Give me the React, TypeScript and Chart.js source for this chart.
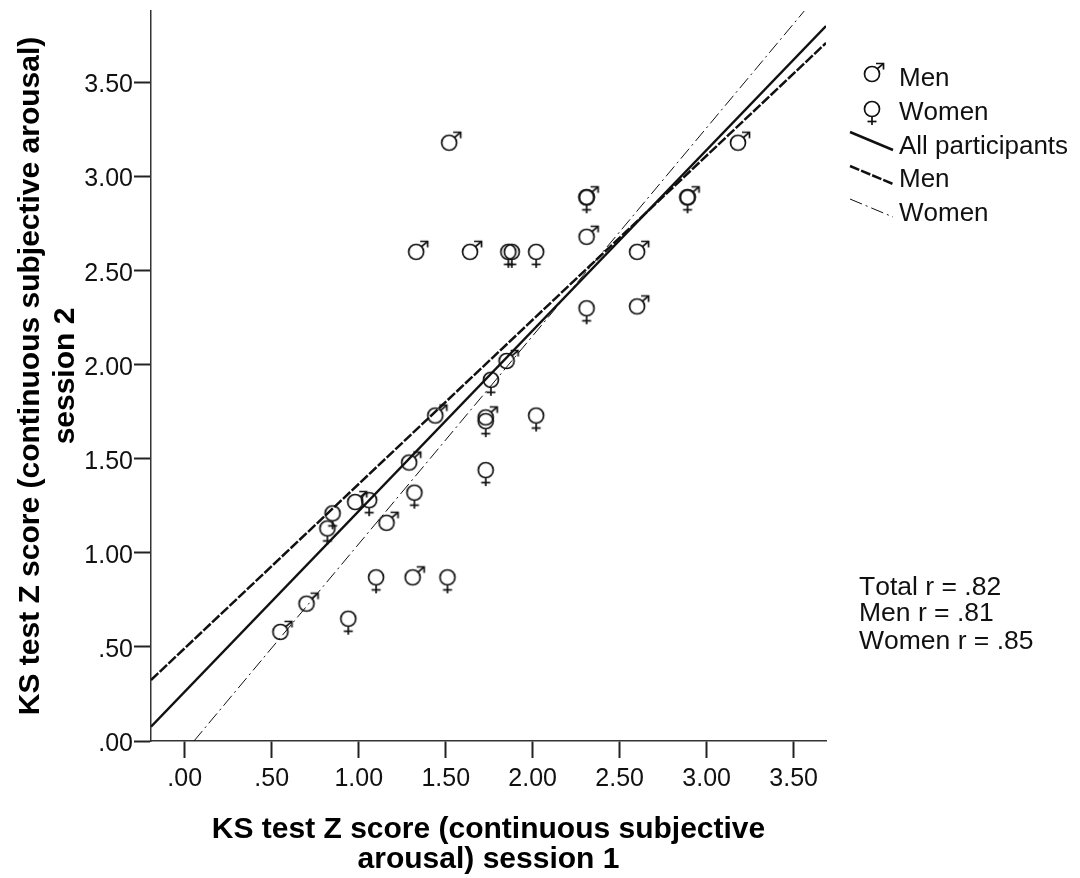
import React, { useEffect, useRef } from "react";
import { Chart, registerables } from "chart.js";

Chart.register(...registerables);

const FONT = '"Liberation Sans", Arial, sans-serif';
const INK = "#111111";

const xTitle = ["KS test Z score (continuous subjective", "arousal) session 1"];
const yTitle = ["KS test Z score (continuous subjective arousal)", "session 2"];
const tickValues = [0, 0.5, 1, 1.5, 2, 2.5, 3, 3.5];
const tickLabels = [".00", ".50", "1.00", "1.50", "2.00", "2.50", "3.00", "3.50"];
const legendLabels = ["Men", "Women", "All participants", "Men", "Women"];
const statLabels = ["Total r = .82", "Men r = .81", "Women r = .85"];

const menX = [1.52, 1.33, 1.64, 2.31, 2.31, 2.89, 3.18, 2.6, 2.6, 1.85, 1.44, 1.73, 1.29, 0.98, 1.16, 1.31, 0.7, 0.55];
const menY = [3.18, 2.6, 2.6, 2.89, 2.68, 2.89, 3.18, 2.6, 2.31, 2.02, 1.73, 1.72, 1.48, 1.27, 1.16, 0.87, 0.73, 0.58];
const womenX = [2.31, 2.89, 1.88, 1.86, 2.02, 2.31, 1.76, 1.73, 2.02, 1.73, 1.32, 1.06, 0.85, 0.82, 1.1, 1.51, 0.94];
const womenY = [2.89, 2.89, 2.6, 2.6, 2.6, 2.3, 1.92, 1.7, 1.73, 1.44, 1.32, 1.28, 1.21, 1.13, 0.87, 0.87, 0.65];

const lineAllX = [-0.194, 3.686];
const lineAllY = [0.076, 3.8];
const lineMenX = [-0.194, 3.686];
const lineMenY = [0.324, 3.71];
const lineWomenX = [0.053, 3.57];
const lineWomenY = [0, 3.89];

const pairs = (xs: number[], ys: number[]) => xs.map((x, i) => ({ x, y: ys[i] }));

function symbolCanvas(draw: (c: CanvasRenderingContext2D) => void) {
  const cv = document.createElement("canvas");
  cv.width = 44;
  cv.height = 44;
  const c = cv.getContext("2d")!;
  c.translate(22, 22);
  c.strokeStyle = INK;
  c.lineWidth = 1.7;
  draw(c);
  return cv;
}

function seg(c: CanvasRenderingContext2D, pts: number[][]) {
  c.beginPath();
  pts.forEach((p, i) => (i ? c.lineTo(p[0], p[1]) : c.moveTo(p[0], p[1])));
  c.stroke();
}

function makeSymbols() {
  const male = symbolCanvas((c) => {
    c.beginPath();
    c.arc(0, 0, 7.5, 0, Math.PI * 2);
    c.stroke();
    seg(c, [[5.2, -5.2], [11.5, -10.5]]);
    seg(c, [[4, -10.5], [11.5, -10.5], [11.5, -4.5]]);
  });
  const female = symbolCanvas((c) => {
    c.beginPath();
    c.arc(0, 0, 7.5, 0, Math.PI * 2);
    c.stroke();
    seg(c, [[0, 7.5], [0, 16]]);
    seg(c, [[-4.5, 12.5], [4.5, 12.5]]);
  });
  return { male, female };
}

const WOMEN_DASH = [13, 4, 2, 4];
const MEN_DASH = [10, 2];

export default function App() {
  const ref = useRef<HTMLCanvasElement>(null);

  useEffect(() => {
    const { male, female } = makeSymbols();

    const notes = {
      id: "notes",
      beforeDraw(chart: any) {
        chart.scales.y.getLabelItems(chart.chartArea).forEach((item: any) => {
          item.options.translation[1] += 3;
        });
      },
      afterDraw(chart: any) {
        const c: any = chart.ctx;
        c.save();
        c.fillStyle = INK;
        c.fontKerning = "none";
        c.font = `26px ${FONT}`;
        c.textBaseline = "middle";
        c.textAlign = "left";
        const rows = [79, 113, 147, 180, 214];
        legendLabels.forEach((t, i) => c.fillText(t, 899, rows[i]));
        c.drawImage(male, 872 - 22, 74 - 22);
        c.drawImage(female, 872 - 22, 109 - 22);
        const sample = (y: number, w: number, d: number[]) => {
          c.save();
          c.strokeStyle = INK;
          c.lineWidth = w;
          c.setLineDash(d);
          c.beginPath();
          c.moveTo(850, y);
          c.lineTo(893, y + 18);
          c.stroke();
          c.restore();
        };
        sample(132, 2.5, []);
        sample(166, 2.5, MEN_DASH);
        sample(199, 1, WOMEN_DASH);
        c.font = `26.5px ${FONT}`;
        const stats = [588, 614, 642];
        statLabels.forEach((t, i) => c.fillText(t, 859, stats[i]));
        c.restore();
      },
    };

    const axis = (title: string[], min: number, max: number, lineHeight: number, tickPad: number, titlePad: any) => ({
      type: "linear" as const,
      min,
      max,
      afterBuildTicks(s: any) {
        s.ticks = tickValues.map((value) => ({ value }));
      },
      ticks: {
        color: INK,
        font: { family: FONT, size: 25 },
        padding: tickPad,
        autoSkip: false,
        maxRotation: 0,
        callback: (v: any) => tickLabels[tickValues.indexOf(Number(v))] ?? "",
      },
      grid: { drawOnChartArea: false, tickLength: 17, tickWidth: 2, tickColor: "#222222" },
      border: { color: "#333333", width: 1.5 },
      title: {
        display: true,
        text: title,
        color: "#000000",
        font: { family: FONT, size: 30, weight: "bold" as const, lineHeight },
        padding: titlePad,
      },
    });

    const xAxis: any = axis(xTitle, -0.194, 3.686, 1.0, 6, { top: 0, bottom: 3 });
    xAxis.afterFit = (s: any) => { s.height = 137; s.paddingLeft = 0; s.paddingRight = 0; };
    const yAxis: any = axis(yTitle, 0, 3.88, 1.17, 1, { top: 13, bottom: 0 });
    yAxis.afterFit = (s: any) => { s.width = 151; s.paddingTop = 0; s.paddingBottom = 0; };

    const line = (label: string, xs: number[], ys: number[], w: number, dash: number[]) => ({
      label,
      type: "scatter" as const,
      data: pairs(xs, ys),
      showLine: true,
      borderColor: INK,
      borderWidth: w,
      borderDash: dash,
      pointRadius: 0,
    });

    const chart = new Chart(ref.current!, {
      type: "scatter",
      data: {
        datasets: [
          { label: "Men", data: pairs(menX, menY), pointStyle: male, pointRadius: 10 } as any,
          { label: "Women", data: pairs(womenX, womenY), pointStyle: female, pointRadius: 10 } as any,
          line("All participants", lineAllX, lineAllY, 2.5, []),
          line("Men", lineMenX, lineMenY, 2.5, MEN_DASH),
          line("Women", lineWomenX, lineWomenY, 1, WOMEN_DASH),
        ],
      },
      options: {
        responsive: false,
        animation: false,
        layout: { padding: { left: 0, top: 10, right: 254, bottom: 0 } },
        plugins: { legend: { display: false }, tooltip: { enabled: false } },
        scales: { x: xAxis, y: yAxis },
      },
      plugins: [notes],
    });
    return () => chart.destroy();
  }, []);

  return (
    <div style={{ position: "absolute", left: 0, top: 0, width: 1080, height: 878, background: "#fff" }}>
      <canvas ref={ref} width={1080} height={878} style={{ display: "block" }} />
    </div>
  );
}
